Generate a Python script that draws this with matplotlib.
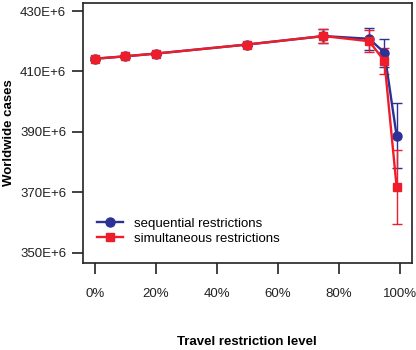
import matplotlib
matplotlib.use("Agg")
import matplotlib.pyplot as plt
from matplotlib.lines import Line2D
from matplotlib.ticker import FuncFormatter

plt.rcParams['font.family'] = ['Liberation Sans', 'DejaVu Sans']

# restriction levels (%)
levels = [0, 10, 20, 50, 75, 90, 95, 99]

# worldwide cases, in millions
seq_cases = [414.2, 415.0, 415.9, 418.9, 421.7, 420.8, 416.2, 388.7]
seq_err = [0.5, 0.5, 0.5, 0.5, 2.4, 3.7, 4.6, 10.8]

sim_cases = [414.2, 415.0, 415.9, 418.9, 421.7, 420.0, 413.4, 371.8]
sim_err = [0.5, 0.5, 0.5, 0.5, 2.4, 3.6, 4.2, 12.3]

yticks = [350, 370, 390, 410, 430]
xticks = [0, 20, 40, 60, 80, 100]

blue = '#2b3195'
red = '#ee1d2a'

fig = plt.figure(figsize=(4.16, 3.5), dpi=100)
ax = fig.add_axes([0.199, 0.249, 0.791, 0.742])

ax.errorbar(levels, seq_cases, yerr=seq_err, color=blue, marker='o', markersize=6.5,
            linewidth=1.7, elinewidth=1.0, capsize=3.5, capthick=1.0)
ax.errorbar(levels, sim_cases, yerr=sim_err, color=red, marker='s', markersize=6,
            linewidth=1.7, elinewidth=1.0, capsize=3.5, capthick=1.0)

ax.set_xlim(-4, 104)
ax.set_ylim(346.6, 432.6)
ax.set_yticks(yticks)
ax.set_xticks(xticks)
ax.yaxis.set_major_formatter(FuncFormatter(lambda v, p: f'{int(v)}E+6'))
ax.xaxis.set_major_formatter(FuncFormatter(lambda v, p: f'{int(v)}%'))
ax.tick_params(axis='both', direction='out', length=8, width=1.2, labelsize=9.5,
               color='#222222', labelcolor='#222222')
ax.tick_params(axis='x', pad=10)
ax.tick_params(axis='y', pad=4)
for s in ax.spines.values():
    s.set_linewidth(1.2)
    s.set_color('#222222')

ax.set_ylabel('Worldwide cases', fontweight='bold', fontsize=9.5)
ax.yaxis.set_label_coords(-0.207, 0.5)
ax.set_xlabel('Travel restriction level', fontweight='bold', fontsize=9.5, labelpad=26)

handles = [Line2D([], [], color=blue, marker='o', markersize=6.5, linewidth=1.7),
           Line2D([], [], color=red, marker='s', markersize=6, linewidth=1.7)]
ax.legend(handles, ['sequential restrictions', 'simultaneous restrictions'],
          loc='lower left', bbox_to_anchor=(0.026, 0.05), frameon=False, fontsize=9.5,
          handlelength=2.0, handletextpad=0.8, labelspacing=0.2, borderaxespad=0)

fig.savefig('out.png', dpi=100)
